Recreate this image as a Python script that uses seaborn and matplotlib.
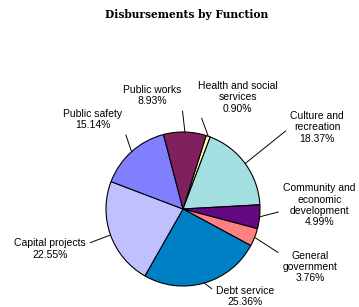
import numpy as np
import matplotlib
matplotlib.use('Agg')
import matplotlib.pyplot as plt
import seaborn as sns

sns.set_theme(style='white')
plt.rcParams['font.family'] = ['Liberation Sans', 'DejaVu Sans']
plt.rcParams['text.color'] = 'black'

# donnees du graphique
labels = ['Health and social\nservices', 'Culture and\nrecreation',
          'Community and\neconomic\ndevelopment', 'General\ngovernment',
          'Debt service', 'Capital projects', 'Public safety', 'Public works']
values = [0.90, 18.37, 4.99, 3.76, 25.36, 22.55, 15.14, 8.93]
colors = ['#FFFFA8', '#A3DFE0', '#63087F', '#FF8080',
          '#0080C4', '#C0C0FF', '#8080FF', '#80205F']

# positions des etiquettes (unites du rayon) et point d'attache du trait
label_pos = [(0.71, 1.45), (1.74, 1.06), (1.77, 0.05), (1.65, -0.75),
             (0.81, -1.14), (-1.73, -0.52), (-1.17, 1.16), (-0.40, 1.47)]
rel_pos = [(0, 0.18), (0, 0.5), (0, 0.37), (0, 0.85),
           (0, 0.72), (1, 0.72), (1, 0.25), (1, 0.25)]

W, H = 359, 307
fig = plt.figure(figsize=(W / 100, H / 100), dpi=100)
cx, cy, r = 183, 209, 77
ax = fig.add_axes([(cx - r) / W, (H - cy - r) / H, 2 * r / W, 2 * r / H])

wedges, _ = ax.pie(values, colors=colors, startangle=72.5, counterclock=False,
                   wedgeprops=dict(edgecolor='black', linewidth=0.8))
ax.set_xlim(-1, 1)
ax.set_ylim(-1, 1)
ax.set_aspect('equal')
ax.axis('off')

for w, lab, v, pos, rp in zip(wedges, labels, values, label_pos, rel_pos):
    mid = np.deg2rad((w.theta1 + w.theta2) / 2)
    edge = (np.cos(mid), np.sin(mid))
    ax.annotate(f'{lab}\n{v:.2f}%', xy=edge, xytext=pos, color='black',
                ha='center', va='center', fontsize=7.5, linespacing=1.15,
                annotation_clip=False,
                arrowprops=dict(arrowstyle='-', color='black', lw=0.7,
                                shrinkA=1, shrinkB=0, relpos=rp))

fig.text(187 / W, 1 - 15 / H, 'Disbursements by Function', ha='center', va='center',
         fontsize=7.7, fontweight='bold', family='DejaVu Serif', color='black')

fig.savefig('out.png', dpi=100)
